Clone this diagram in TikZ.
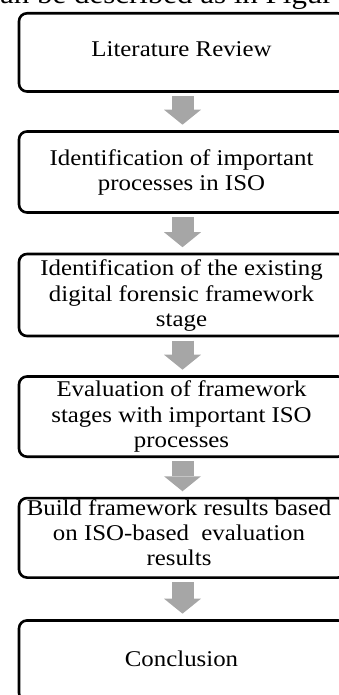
\documentclass[tikz,border=0pt]{standalone}
\usepackage{fontspec}
\setmainfont{Liberation Serif}[FakeStretch=1.105]
\usetikzlibrary{arrows.meta}
\definecolor{arrowgray}{HTML}{A6A6A6}
\begin{document}
\begin{tikzpicture}[x=1pt,y=-1pt,
  box/.style={draw=black, line width=2.6pt, rounded corners=8pt, minimum width=327pt, inner sep=0pt},
  txt/.style={align=center, font=\fontsize{22.5}{25.3}\selectfont, inner sep=0pt},
  flow/.style={arrowgray, line width=22pt, -{Triangle[width=37pt,length=15pt,line width=0pt]}}]
\useasboundingbox (0,0) rectangle (339,695);
% header text (cropped)
\node[anchor=base west, inner sep=0pt, font=\fontsize{28}{33}\selectfont] (hdr) at (0,3.3) {an be described as in Figur};
% boxes
\node[box, minimum height=78.2pt] (b1) at (182.5,52.4) {};
\node[box, minimum height=81pt] (b2) at (182.5,172) {};
\node[box, minimum height=82pt] (b3) at (182.5,295) {};
\node[box, minimum height=80.2pt] (b4) at (182.5,416.6) {};
\node[box, minimum height=79.5pt] (b5) at (182.5,537.8) {};
\node[box, minimum height=80.5pt] (b6) at (182.5,660.7) {};
% texts
\node[txt] (t1) at (181.5,49.6) {Literature Review};
\node[txt] (t2) at (181.5,172.4) {Identification of important\\processes in ISO};
\node[txt] (t3) at (181.5,295.7) {Identification of the existing\\digital forensic framework\\stage};
\node[txt] (t4) at (181.5,416.7) {Evaluation of framework\\stages with important ISO\\processes};
\node[txt] (t5) at (179,532.6) {Build framework results based\\on ISO-based~ evaluation\\results};
\node[txt] (t6) at (181.5,659) {Conclusion};
% arrows
\foreach \a/\b in {b1/b2,b2/b3,b3/b4,b4/b5,b5/b6}
  \draw[flow] ([yshift=-3.3pt]\a.south) -- ([yshift=5.5pt]\b.north);
\end{tikzpicture}
\end{document}
